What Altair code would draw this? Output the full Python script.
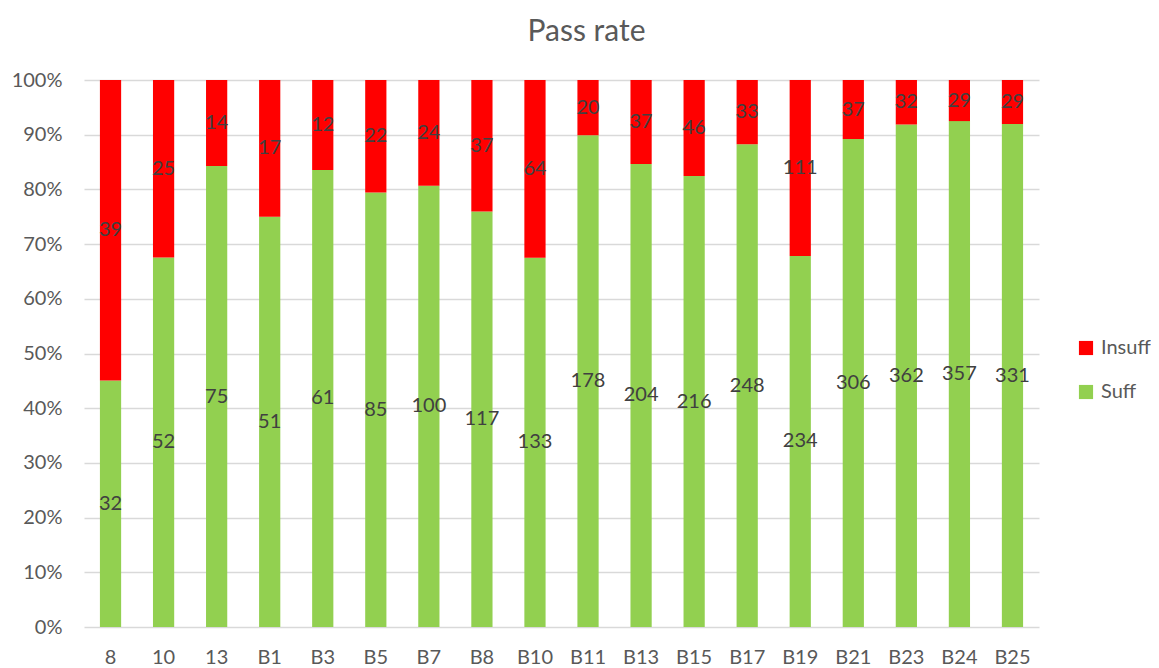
import altair as alt
import pandas as pd

categories = ["8", "10", "13", "B1", "B3", "B5", "B7", "B8", "B10", "B11",
              "B13", "B15", "B17", "B19", "B21", "B23", "B24", "B25"]
suff = [32, 52, 75, 51, 61, 85, 100, 117, 133, 178, 204, 216, 248, 234, 306, 362, 357, 331]
insuff = [39, 25, 14, 17, 12, 22, 24, 37, 64, 20, 37, 46, 33, 111, 37, 32, 29, 29]
series = ["Suff", "Insuff"]
colors = {"Insuff": "#FF0000", "Suff": "#92D050"}

rows = []
for c, s, i in zip(categories, suff, insuff):
    rows.append({"category": c, "status": "Suff", "ord": 0, "count": s})
    rows.append({"category": c, "status": "Insuff", "ord": 1, "count": i})
df = pd.DataFrame(rows)

FONT = "Lato"

base = alt.Chart(df).transform_stack(
    stack="count",
    groupby=["category"],
    as_=["y0", "y1"],
    offset="normalize",
    sort=[alt.SortField("ord", order="ascending")],
).transform_calculate(mid="(datum.y0 + datum.y1) / 2")

xenc = alt.X("category:N", sort=categories, title=None,
             scale=alt.Scale(paddingInner=0.6, paddingOuter=0.3),
             axis=alt.Axis(labelAngle=0, ticks=False, domain=False, labelPadding=20,
                           labelFontSize=20, labelColor="#595959", labelFont=FONT))

bars = base.mark_bar().encode(
    x=xenc,
    y=alt.Y("y0:Q", title=None, scale=alt.Scale(domain=[0, 1], nice=False),
            axis=alt.Axis(format="%", values=[i / 10 for i in range(11)], ticks=False,
                          domain=False, labelPadding=22, labelFontSize=20,
                          labelColor="#595959", labelFont=FONT,
                          gridColor="#D9D9D9", gridWidth=1.5)),
    y2="y1:Q",
    color=alt.Color("status:N",
                    scale=alt.Scale(domain=["Insuff", "Suff"],
                                    range=[colors["Insuff"], colors["Suff"]]),
                    legend=alt.Legend(title=None, orient="none", legendX=992, legendY=258,
                                      symbolType="square", symbolSize=200,
                                      symbolStrokeWidth=0, labelFontSize=20,
                                      labelColor="#595959", labelFont=FONT,
                                      rowPadding=24, labelOffset=5)),
)

labels = base.mark_text(fontSize=20, color="#404040", font=FONT).encode(
    x=alt.X("category:N", sort=categories),
    y=alt.Y("mid:Q"),
    text=alt.Text("count:Q"),
)

chart = (bars + labels).properties(
    width=955, height=547,
    title=alt.TitleParams("Pass rate", fontSize=30, font=FONT, color="#595959",
                          fontWeight="normal", offset=23, dx=25),
    padding={"left": 76, "top": 72, "right": 112, "bottom": 41},
    autosize=alt.AutoSizeParams(type="none"),
).configure_view(stroke=None)

chart.save("out.html", embed_options={"renderer": "svg", "actions": False})
